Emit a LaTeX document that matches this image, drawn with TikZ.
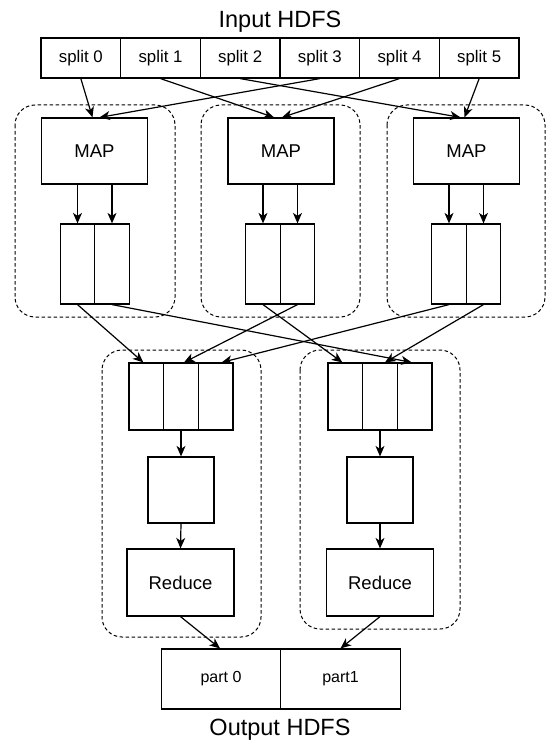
\documentclass[tikz,border=0pt]{standalone}
\usepackage{fontspec}
\setmainfont{Liberation Sans}
\usetikzlibrary{arrows.meta}

\begin{document}
\begin{tikzpicture}[x=1pt,y=-1pt,
  splitbox/.style={draw, line width=1.2pt, inner sep=0pt, minimum width=79.67pt, minimum height=40pt, font=\fontsize{16.8}{16.8}\selectfont},
  mapbox/.style={draw, line width=1.2pt, inner sep=0pt, minimum width=106pt, minimum height=66pt, font=\fontsize{18.5}{18.5}\selectfont},
  mcell/.style={draw, line width=1.2pt, inner sep=0pt, minimum width=34.5pt, minimum height=80pt},
  rcell/.style={draw, line width=1.2pt, inner sep=0pt, minimum width=34.7pt, minimum height=67pt},
  midbox/.style={draw, line width=1.2pt, inner sep=0pt, minimum width=66pt, minimum height=66pt},
  redbox/.style={draw, line width=1.2pt, inner sep=0pt, minimum width=107pt, minimum height=67pt, font=\fontsize{18.5}{18.5}\selectfont},
  outcell/.style={draw, line width=1.2pt, inner sep=0pt, minimum width=119.5pt, minimum height=60pt, font=\fontsize{16}{16}\selectfont},
  group/.style={draw, line width=1pt, dash pattern=on 3.5pt off 2.5pt, rounded corners=20pt},
  arr/.style={line width=1.2pt, -{Stealth[length=10.5pt,width=9pt,inset=3pt]}},
  title/.style={anchor=base, font=\fontsize{23.5}{23.5}\selectfont}]

\useasboundingbox (0,0) rectangle (547,741);

% dashed containers for the map and reduce stages
\draw[group] (15,105) rectangle (175,317);
\draw[group] (201,105) rectangle (360,317);
\draw[group] (387,105) rectangle (545,317);
\draw[group] (102,350) rectangle (261,637);
\draw[group] (300,350) rectangle (460,629);

% input
\node[title] (inhdfs) at (280,28) {Input HDFS};
\node[splitbox] (s0) at (80.83,58) {split 0};
\node[splitbox] (s1) at (160.5,58) {split 1};
\node[splitbox] (s2) at (240.17,58) {split 2};
\node[splitbox] (s3) at (319.83,58) {split 3};
\node[splitbox] (s4) at (399.5,58) {split 4};
\node[splitbox] (s5) at (479.17,58) {split 5};

% map tasks
\node[mapbox] (m1) at (94.5,151) {MAP};
\node[mapbox] (m2) at (281,151) {MAP};
\node[mapbox] (m3) at (466.5,151) {MAP};

% map output partitions
\node[mcell] (p1a) at (77.5,264) {};
\node[mcell] (p1b) at (112,264) {};
\node[mcell] (p2a) at (263,264) {};
\node[mcell] (p2b) at (297.5,264) {};
\node[mcell] (p3a) at (449,264) {};
\node[mcell] (p3b) at (483.5,264) {};

% reduce inputs
\node[rcell] (r1a) at (146.3,396.5) {};
\node[rcell] (r1b) at (181,396.5) {};
\node[rcell] (r1c) at (215.7,396.5) {};
\node[rcell] (r2a) at (345.3,396.5) {};
\node[rcell] (r2b) at (380,396.5) {};
\node[rcell] (r2c) at (414.7,396.5) {};

\node[midbox] (k1) at (181,490) {};
\node[midbox] (k2) at (380,490) {};

\node[redbox] (red1) at (180.5,582.5) {Reduce};
\node[redbox] (red2) at (380,582.5) {Reduce};

% output
\node[outcell] (o0) at (221,679) {part 0};
\node[outcell] (o1) at (340.5,679) {part1};
\node[title] (outhdfs) at (280,735.5) {Output HDFS};

% splits to maps
\draw[arr] (s0.south) -- ([xshift=-2pt]m1.north);
\draw[arr] (s3.south) -- ([xshift=5pt]m1.north);
\draw[arr] (s1.south) -- ([xshift=-7pt]m2.north);
\draw[arr] (s4.south) -- ([xshift=1pt]m2.north);
\draw[arr] (s2.south) -- ([xshift=-6pt]m3.north);
\draw[arr] (s5.south) -- ([xshift=-2pt]m3.north);

% maps to partitions
\foreach \m/\a/\b in {m1/p1a/p1b, m2/p2a/p2b, m3/p3a/p3b}{
  \draw[arr] (\m.south -| \a.north) -- (\a.north);
  \draw[arr] (\m.south -| \b.north) -- (\b.north);
}

% shuffle
\draw[arr] (p1a.south) -- ([xshift=-3pt]r1a.north);
\draw[arr] (p1b.south) -- ([xshift=-3pt]r2c.north);
\draw[arr] (p2a.south) -- ([xshift=-3pt]r2a.north);
\draw[arr] (p2b.south) -- ([xshift=3pt]r1b.north);
\draw[arr] (p3a.south) -- ([xshift=6pt]r1c.north);
\draw[arr] (p3b.south) -- ([xshift=5pt]r2b.north);

% reduce chain
\draw[arr] (r1b.south) -- (k1.north);
\draw[arr] (k1.south) -- (red1.north);
\draw[arr] (r2b.south) -- (k2.north);
\draw[arr] (k2.south) -- (red2.north);

% reduce to output
\draw[arr] (red1.south) -- ([xshift=-1pt]o0.north);
\draw[arr] (red2.south) -- (o1.north);
\end{tikzpicture}
\end{document}
